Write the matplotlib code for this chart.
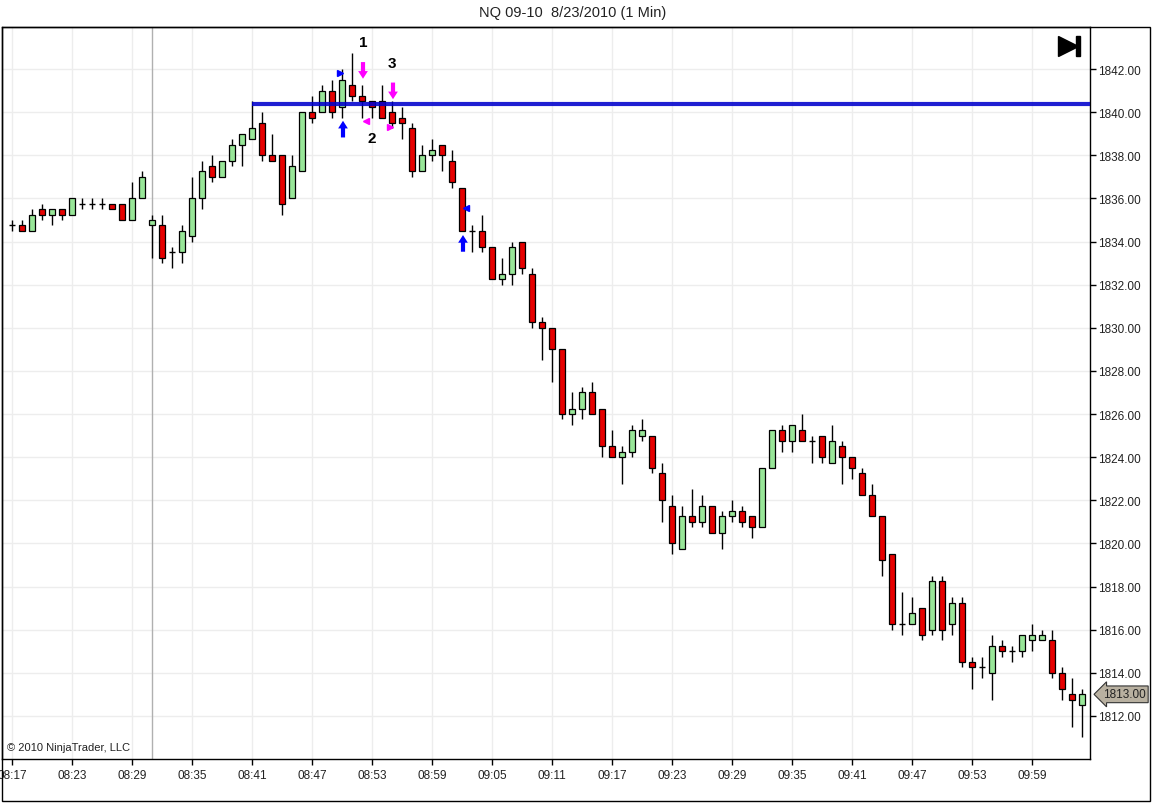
import matplotlib.pyplot as plt
import matplotlib.transforms as mtransforms
from matplotlib.patches import Rectangle
import numpy as np

plt.rcParams['font.family'] = ['Liberation Sans', 'DejaVu Sans']

# Данные: 1-минутные свечи NQ 09-10, 23.08.2010, начиная с 08:17
opens = [1834.75, 1834.75, 1834.5, 1835.5, 1835.25, 1835.5, 1835.25, 1835.75, 1835.75, 1835.75,
         1835.75, 1835.75, 1835.0, 1836.0, 1834.75, 1834.75, 1833.5, 1833.5, 1834.25, 1836.0,
         1837.5, 1837.0, 1837.75, 1838.5, 1838.75, 1839.5, 1838.0, 1838.0, 1836.0, 1837.25,
         1840.0, 1840.0, 1841.0, 1840.25, 1841.25, 1840.75, 1840.5, 1840.5, 1840.0, 1839.75,
         1839.25, 1837.25, 1838.0, 1838.5, 1837.75, 1836.5, 1834.5, 1834.5, 1833.75, 1832.25,
         1832.5, 1834.0, 1832.5, 1830.25, 1830.0, 1829.0, 1826.0, 1826.25, 1827.0, 1826.25,
         1824.5, 1824.0, 1824.25, 1825.0, 1825.0, 1823.25, 1821.75, 1819.75, 1821.25, 1821.0,
         1821.75, 1820.5, 1821.25, 1821.5, 1821.25, 1820.75, 1823.5, 1825.25, 1824.75, 1825.25,
         1824.75, 1825.0, 1823.75, 1824.5, 1824.0, 1823.25, 1822.25, 1821.25, 1819.5, 1816.25,
         1816.25, 1817.0, 1816.0, 1818.25, 1816.25, 1817.25, 1814.5, 1814.25, 1814.0, 1815.25,
         1815.0, 1815.0, 1815.5, 1815.5, 1815.5, 1814.0, 1813.0, 1812.5]
highs = [1835.0, 1835.0, 1835.5, 1835.75, 1835.5, 1835.5, 1836.0, 1836.0, 1836.0, 1836.0,
         1835.75, 1835.75, 1836.75, 1837.25, 1835.25, 1835.25, 1833.75, 1834.75, 1837.0, 1837.75,
         1838.0, 1837.75, 1838.75, 1839.0, 1840.5, 1840.0, 1839.0, 1838.0, 1838.0, 1840.0,
         1840.75, 1841.25, 1841.5, 1842.0, 1842.75, 1841.25, 1840.5, 1841.25, 1840.5, 1840.25,
         1839.5, 1838.5, 1838.75, 1838.5, 1838.25, 1836.5, 1834.75, 1835.25, 1833.75, 1833.25,
         1834.0, 1834.0, 1832.75, 1830.5, 1830.0, 1829.0, 1827.0, 1827.25, 1827.5, 1826.25,
         1825.25, 1824.5, 1825.5, 1825.75, 1825.0, 1823.75, 1822.25, 1821.75, 1822.5, 1822.25,
         1821.75, 1821.5, 1822.0, 1821.75, 1821.25, 1823.5, 1825.25, 1825.5, 1825.5, 1826.0,
         1825.0, 1825.0, 1825.5, 1824.75, 1824.0, 1823.5, 1822.75, 1821.25, 1819.5, 1817.75,
         1817.5, 1817.0, 1818.5, 1818.5, 1817.5, 1817.5, 1814.75, 1814.75, 1815.75, 1815.5,
         1815.25, 1815.75, 1816.25, 1816.0, 1816.0, 1814.25, 1813.75, 1813.25]
lows = [1834.5, 1834.5, 1834.5, 1835.0, 1834.75, 1835.0, 1835.25, 1835.5, 1835.5, 1835.5,
        1835.5, 1835.0, 1835.0, 1836.0, 1833.25, 1833.0, 1832.75, 1833.0, 1834.0, 1835.5,
        1836.75, 1837.0, 1837.5, 1837.5, 1838.75, 1837.75, 1837.75, 1835.25, 1836.0, 1837.25,
        1839.5, 1840.0, 1839.75, 1839.75, 1840.5, 1839.75, 1839.75, 1839.75, 1839.25, 1838.75,
        1837.0, 1837.25, 1837.75, 1837.25, 1836.5, 1834.5, 1833.5, 1833.5, 1832.25, 1832.0,
        1832.0, 1832.5, 1830.0, 1828.5, 1827.5, 1825.75, 1825.5, 1825.75, 1826.0, 1824.0,
        1824.0, 1822.75, 1824.0, 1824.75, 1823.25, 1821.0, 1819.5, 1819.75, 1820.75, 1820.75,
        1820.5, 1819.75, 1821.0, 1820.75, 1820.25, 1820.75, 1823.5, 1824.25, 1824.25, 1824.75,
        1823.75, 1823.75, 1823.75, 1822.75, 1823.0, 1822.25, 1821.25, 1818.5, 1816.0, 1815.75,
        1816.25, 1815.5, 1815.75, 1815.5, 1815.75, 1814.25, 1813.25, 1813.75, 1812.75, 1814.75,
        1814.5, 1814.75, 1815.0, 1815.5, 1813.75, 1812.75, 1811.5, 1811.0]
closes = [1834.75, 1834.5, 1835.25, 1835.25, 1835.5, 1835.25, 1836.0, 1835.75, 1835.75, 1835.75,
          1835.5, 1835.0, 1836.0, 1837.0, 1835.0, 1833.25, 1833.5, 1834.5, 1836.0, 1837.25,
          1837.0, 1837.75, 1838.5, 1839.0, 1839.25, 1838.0, 1837.75, 1835.75, 1837.5, 1840.0,
          1839.75, 1841.0, 1840.0, 1841.5, 1840.75, 1840.5, 1840.25, 1839.75, 1839.5, 1839.5,
          1837.25, 1838.0, 1838.25, 1838.0, 1836.75, 1834.5, 1834.5, 1833.75, 1832.25, 1832.5,
          1833.75, 1832.75, 1830.25, 1830.0, 1829.0, 1826.0, 1826.25, 1827.0, 1826.0, 1824.5,
          1824.0, 1824.25, 1825.25, 1825.25, 1823.5, 1822.0, 1820.0, 1821.25, 1821.0, 1821.75,
          1820.5, 1821.25, 1821.5, 1821.0, 1820.75, 1823.5, 1825.25, 1824.75, 1825.5, 1824.75,
          1824.75, 1824.0, 1824.75, 1824.0, 1823.5, 1822.25, 1821.25, 1819.25, 1816.25, 1816.25,
          1816.75, 1815.75, 1818.25, 1816.0, 1817.25, 1814.5, 1814.25, 1814.25, 1815.25, 1815.0,
          1815.0, 1815.75, 1815.75, 1815.75, 1814.0, 1813.25, 1812.75, 1813.0]

time_labels = ['08:17', '08:23', '08:29', '08:35', '08:41', '08:47', '08:53', '08:59',
               '09:05', '09:11', '09:17', '09:23', '09:29', '09:35', '09:41', '09:47',
               '09:53', '09:59']
price_ticks = [1812, 1814, 1816, 1818, 1820, 1822, 1824, 1826, 1828, 1830,
               1832, 1834, 1836, 1838, 1840, 1842]

session_bar = 14          # вертикальная линия начала сессии (08:31)
level_start = 24          # синяя линия уровня
level_price = 1840.4
last_price = 1813.00

# Метки "1", "2", "3": (номер бара, цена)
labels = [('1', 35.1, 1843.25), ('3', 38.0, 1842.28), ('2', 36.0, 1838.8)]
# Стрелки: (бар, цена острия, направление, цвет)
arrows = [(35.1, 1841.55, 'down', '#FF00FF'), (38.1, 1840.6, 'down', '#FF00FF'),
          (33.1, 1839.6, 'up', '#0000FF'), (45.1, 1834.3, 'up', '#0000FF')]
# Маленькие треугольники: (бар, цена, маркер, цвет)
flags = [(32.8, 1841.8, '>', '#0000FF'), (35.4, 1839.6, '<', '#FF00FF'),
         (37.8, 1839.3, '>', '#FF00FF'), (45.4, 1835.55, '<', '#0000FF')]

fig = plt.figure(figsize=(11.52, 8.04), dpi=100)
ax = fig.add_axes([2 / 1152, 1 - 760 / 804, 1088 / 1152, 732 / 804])

n = len(opens)
x = np.arange(n)
o = np.array(opens)
c = np.array(closes)
h = np.array(highs)
l = np.array(lows)

# Фитили
ax.vlines(x, l, h, color='black', linewidth=1, zorder=2)

# Тела свечей
up = c > o
down = c < o
flat = c == o
ax.bar(x[up], (c - o)[up], bottom=o[up], width=0.62, color='#98E698',
       edgecolor='black', linewidth=0.9, zorder=3)
ax.bar(x[down], (o - c)[down], bottom=c[down], width=0.62, color='#E60000',
       edgecolor='black', linewidth=0.9, zorder=3)
ax.hlines(c[flat], x[flat] - 0.33, x[flat] + 0.33, color='black', linewidth=1, zorder=3)

# Сетка и оси
ax.set_xlim(-1.0, 107.8)
ax.set_ylim(1810.0, 1843.95)
xt = np.arange(0, n, 6)[:len(time_labels)]
ax.set_xticks(xt)
ax.set_xticklabels(time_labels)
ax.set_yticks(price_ticks)
ax.set_yticklabels(['%.2f' % p for p in price_ticks])
ax.yaxis.tick_right()
ax.tick_params(axis='both', direction='out', length=4, width=1, labelsize=8.5,
               colors='black', labelcolor='#222222')
ax.tick_params(axis='y', pad=2)
ax.tick_params(axis='x', pad=3)
ax.grid(True, color='#EDEDED', linewidth=1, zorder=0)
ax.set_axisbelow(True)
for s in ax.spines.values():
    s.set_linewidth(1)
    s.set_color('black')

ax.axvline(session_bar, color='#B0B0B0', linewidth=1, zorder=1)

# Синяя линия уровня
ax.hlines(level_price, level_start, 107.8, color='#0000CC', linewidth=3, alpha=0.88, zorder=4)

# Метки и стрелки
for txt, bx, py in labels:
    ax.text(bx, py, txt, fontsize=11, fontweight='bold', ha='center', va='center', zorder=6)
for bx, py, d, col in arrows:
    dy = 12 if d == 'down' else -12
    ax.annotate('', xy=(bx, py), xytext=(0, dy), textcoords='offset points',
                arrowprops=dict(arrowstyle='simple,head_width=0.7,head_length=0.55,tail_width=0.3',
                                color=col, lw=0, shrinkA=0, shrinkB=0), zorder=6)
for bx, py, m, col in flags:
    ax.plot(bx, py, marker=m, color=col, markersize=5, linestyle='none', zorder=6)

# Ценовая метка последнего бара
trans = mtransforms.blended_transform_factory(ax.transAxes, ax.transData)
ax.text(1.012, last_price, '%.2f' % last_price, transform=trans, fontsize=8.5,
        color='#222222', va='center', ha='left', zorder=7,
        bbox=dict(boxstyle='larrow,pad=0.2', facecolor='#B8B0A0', edgecolor='#333333', linewidth=0.8))

# Кнопка "в конец"
ax.plot(0.9795, 0.974, marker='>', color='black', markersize=15, transform=ax.transAxes, clip_on=False)
ax.add_patch(Rectangle((0.9875, 0.961), 0.0035, 0.027, transform=ax.transAxes,
                       color='black', clip_on=False))

ax.text(0.0045, 0.01, '\u00a9 2010 NinjaTrader, LLC', transform=ax.transAxes,
        fontsize=8, color='#222222', ha='left', va='bottom')

fig.text(573 / 1152, 1 - 13 / 804, 'NQ 09-10  8/23/2010 (1 Min)', ha='center', va='center',
         fontsize=10.5, color='#222222')

# Внешняя рамка
fig.add_artist(Rectangle((2 / 1152, 1 - 802 / 804), 1148 / 1152, 774 / 804,
                         transform=fig.transFigure, fill=False, edgecolor='black', linewidth=1))

fig.savefig('out.png', dpi=100)
